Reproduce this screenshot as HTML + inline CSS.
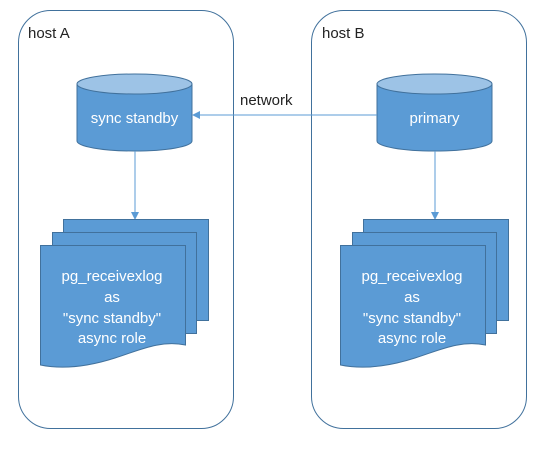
<!DOCTYPE html>
<html><head><style>body{margin:0;background:#fff}</style></head><body>
<svg width="545" height="445" xmlns="http://www.w3.org/2000/svg" font-family="Liberation Sans, sans-serif">
<defs><marker id="a" markerWidth="8" markerHeight="8" refX="7" refY="4" orient="auto" markerUnits="userSpaceOnUse"><path d="M0,0 L8,4 L0,8 z" fill="#5b9bd5"/></marker></defs>
<rect x="18.5" y="10.5" width="215" height="418" rx="32" fill="#fff" stroke="#41719c"/>
<rect x="311.5" y="10.5" width="215" height="418" rx="32" fill="#fff" stroke="#41719c"/>
<text x="28" y="38" font-size="15" fill="#222">host A</text>
<text x="322" y="38" font-size="15" fill="#222">host B</text>
<g id="L">
<path d="M77,84 V141 A57.5,10 0 0 0 192,141 V84" fill="#5b9bd5" stroke="#41719c"/>
<ellipse cx="134.5" cy="84" rx="57.5" ry="10" fill="#9dc3e6" stroke="#41719c"/>
<line x1="135" y1="151" x2="135" y2="219" stroke="#5b9bd5" marker-end="url(#a)"/>
<rect x="63.5" y="219.5" width="145" height="101" fill="#5b9bd5" stroke="#41719c"/>
<rect x="52.5" y="232.5" width="144" height="101" fill="#5b9bd5" stroke="#41719c"/>
<path d="M40.5,245.5 H185.5 V345 C160,340 140,350 115,358 C90,366 65,370 40.5,365 Z" fill="#5b9bd5" stroke="#41719c"/>
<g fill="#fff" font-size="15" text-anchor="middle">
<text x="112" y="281">pg_receivexlog</text>
<text x="112" y="302">as</text>
<text x="112" y="323">"sync standby"</text>
<text x="112" y="343">async role</text>
</g>
</g>
<use href="#L" x="300"/>
<text x="134.5" y="123" fill="#fff" font-size="15" text-anchor="middle">sync standby</text>
<text x="434.5" y="123" fill="#fff" font-size="15" text-anchor="middle">primary</text>
<line x1="377" y1="115" x2="193" y2="115" stroke="#5b9bd5" marker-end="url(#a)"/>
<text x="240" y="105" font-size="15" fill="#222">network</text>
</svg>
</body></html>
